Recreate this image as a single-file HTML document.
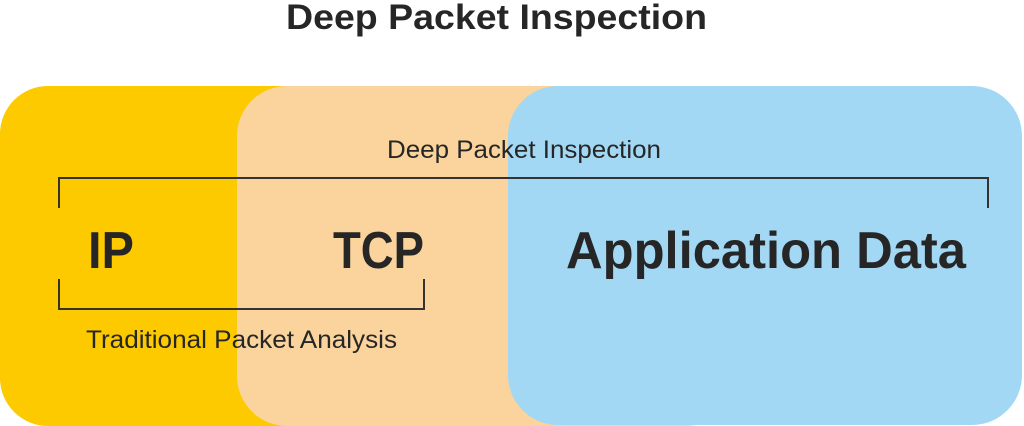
<!DOCTYPE html>
<html><head><meta charset="utf-8"><style>
html,body{margin:0;padding:0;background:#fff;}
svg{display:block;}
text{font-family:"Liberation Sans",sans-serif;fill:#262626;}
</style></head><body>
<svg width="1024" height="426" viewBox="0 0 1024 426" xmlns="http://www.w3.org/2000/svg">
<rect width="1024" height="426" fill="#fff"/>
<rect x="0" y="86" width="600" height="340" rx="48" fill="#FDCA00"/>
<rect x="237" y="86" width="500" height="340" rx="50" fill="#FAD4A4" opacity="0.95"/>
<rect x="508" y="86" width="514" height="339" rx="50" fill="#A3D8F4"/>
<text x="286" y="29" font-size="35" font-weight="bold" textLength="421" lengthAdjust="spacingAndGlyphs">Deep Packet Inspection</text>
<text x="387" y="158" font-size="25" textLength="274" lengthAdjust="spacingAndGlyphs">Deep Packet Inspection</text>
<polyline points="59,208 59,178 988,178 988,208" fill="none" stroke="#333" stroke-width="2"/>
<polyline points="59,279 59,309 424,309 424,279" fill="none" stroke="#333" stroke-width="2"/>
<text x="88" y="268" font-size="52" font-weight="bold" textLength="46" lengthAdjust="spacingAndGlyphs">IP</text>
<text x="333" y="268" font-size="52" font-weight="bold" textLength="91" lengthAdjust="spacingAndGlyphs">TCP</text>
<text x="566" y="268" font-size="52" font-weight="bold" textLength="400" lengthAdjust="spacingAndGlyphs">Application Data</text>
<text x="86" y="348" font-size="25" textLength="311" lengthAdjust="spacingAndGlyphs">Traditional Packet Analysis</text>
</svg>
</body></html>
